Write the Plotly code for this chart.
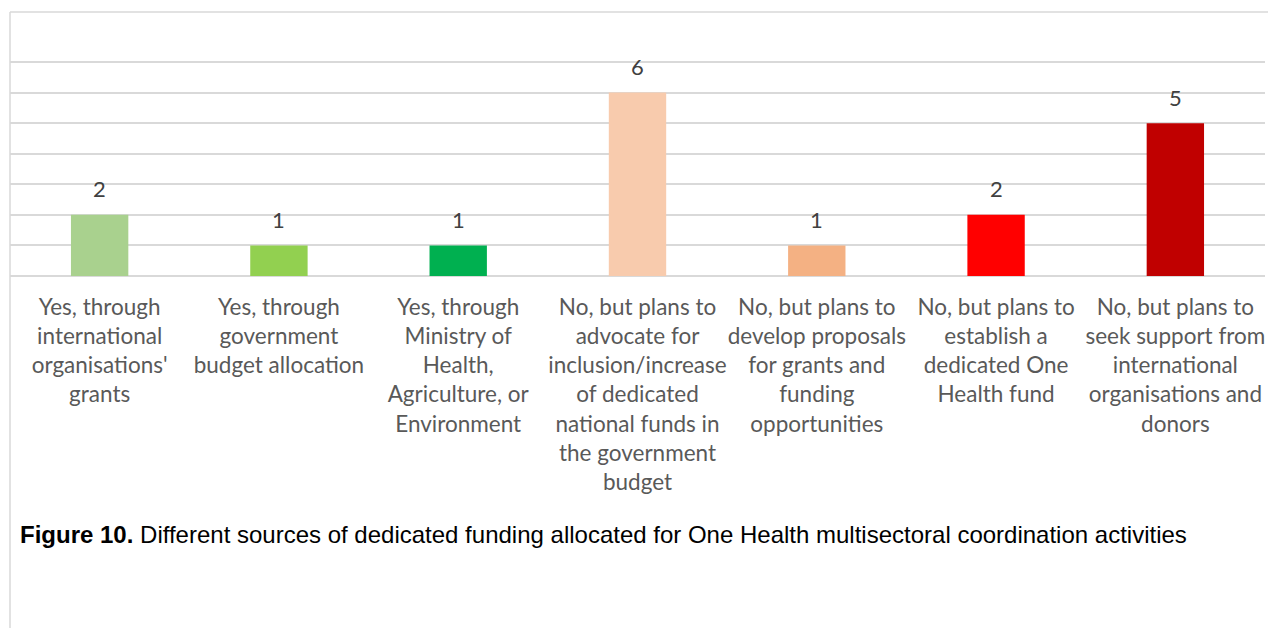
import plotly.graph_objects as go

categories = [
    "Yes, through<br>international<br>organisations'<br>grants",
    "Yes, through<br>government<br>budget allocation",
    "Yes, through<br>Ministry of<br>Health,<br>Agriculture, or<br>Environment",
    "No, but plans to<br>advocate for<br>inclusion/increase<br>of dedicated<br>national funds in<br>the government<br>budget",
    "No, but plans to<br>develop proposals<br>for grants and<br>funding<br>opportunities",
    "No, but plans to<br>establish a<br>dedicated One<br>Health fund",
    "No, but plans to<br>seek support from<br>international<br>organisations and<br>donors",
]
counts = [2, 1, 1, 6, 1, 2, 5]
bar_colors = ["#a9d18e", "#92d050", "#00b050", "#f8cbad", "#f4b183", "#ff0000", "#c00000"]
caption_bold = "Figure 10."
caption_text = " Different sources of dedicated funding allocated for One Health multisectoral coordination activities"

W, H = 1268, 628
UNIT = 214 / 7          # pixels per count
Y_TOP = 7.1             # a little headroom so the top gridline is drawn
ML, MR, MB = 10, 3, 352
MT = int(round(H - MB - Y_TOP * UNIT))
plot_w = W - ML - MR
plot_h = H - MT - MB


def px(pixel_x):
    return (pixel_x - ML) / plot_w


def py(pixel_y):
    return (H - MB - pixel_y) / plot_h


fig = go.Figure(
    go.Bar(
        x=list(range(len(categories))),
        y=counts,
        marker=dict(color=bar_colors, line=dict(width=0)),
        width=0.32,
        hoverinfo="skip",
    )
)

for i, v in enumerate(counts):
    fig.add_annotation(
        x=i, y=v, xref="x", yref="y",
        text=str(v), showarrow=False,
        yanchor="middle", yshift=26,
        font=dict(family="Lato", size=22, color="#404040"),
    )

fig.add_annotation(
    x=px(18), y=py(534), xref="paper", yref="paper",
    text=f"<b>{caption_bold}</b>{caption_text}",
    showarrow=False, xanchor="left", yanchor="middle",
    font=dict(family="Liberation Sans, Arial", size=24, color="#000000"),
)

# outer frame of the chart area (top and left edges)
fig.add_shape(type="line", xref="paper", yref="paper",
              x0=0, x1=px(W), y0=py(12), y1=py(12),
              line=dict(color="#d9d9d9", width=1.5))
fig.add_shape(type="line", xref="paper", yref="paper",
              x0=0, x1=0, y0=py(12), y1=py(H),
              line=dict(color="#d9d9d9", width=1.5))

fig.update_layout(
    width=W, height=H,
    margin=dict(l=ML, r=MR, t=MT, b=MB, autoexpand=False),
    paper_bgcolor="white", plot_bgcolor="white",
    showlegend=False,
    xaxis=dict(
        tickmode="array",
        tickvals=list(range(len(categories))),
        ticktext=categories,
        range=[-0.5, len(categories) - 0.5],
        showgrid=False, zeroline=False, showline=False,
        ticks="", ticklabelstandoff=15, tickangle=0,
        tickfont=dict(family="Lato", size=22.5, color="#595959"),
    ),
    yaxis=dict(
        range=[0, Y_TOP], tickmode="linear", tick0=0, dtick=1,
        showgrid=True, gridcolor="#d9d9d9", gridwidth=1.5,
        zeroline=True, zerolinecolor="#d9d9d9", zerolinewidth=1.5,
        showticklabels=False, showline=False, ticks="",
    ),
)

fig.write_html("out.html")
